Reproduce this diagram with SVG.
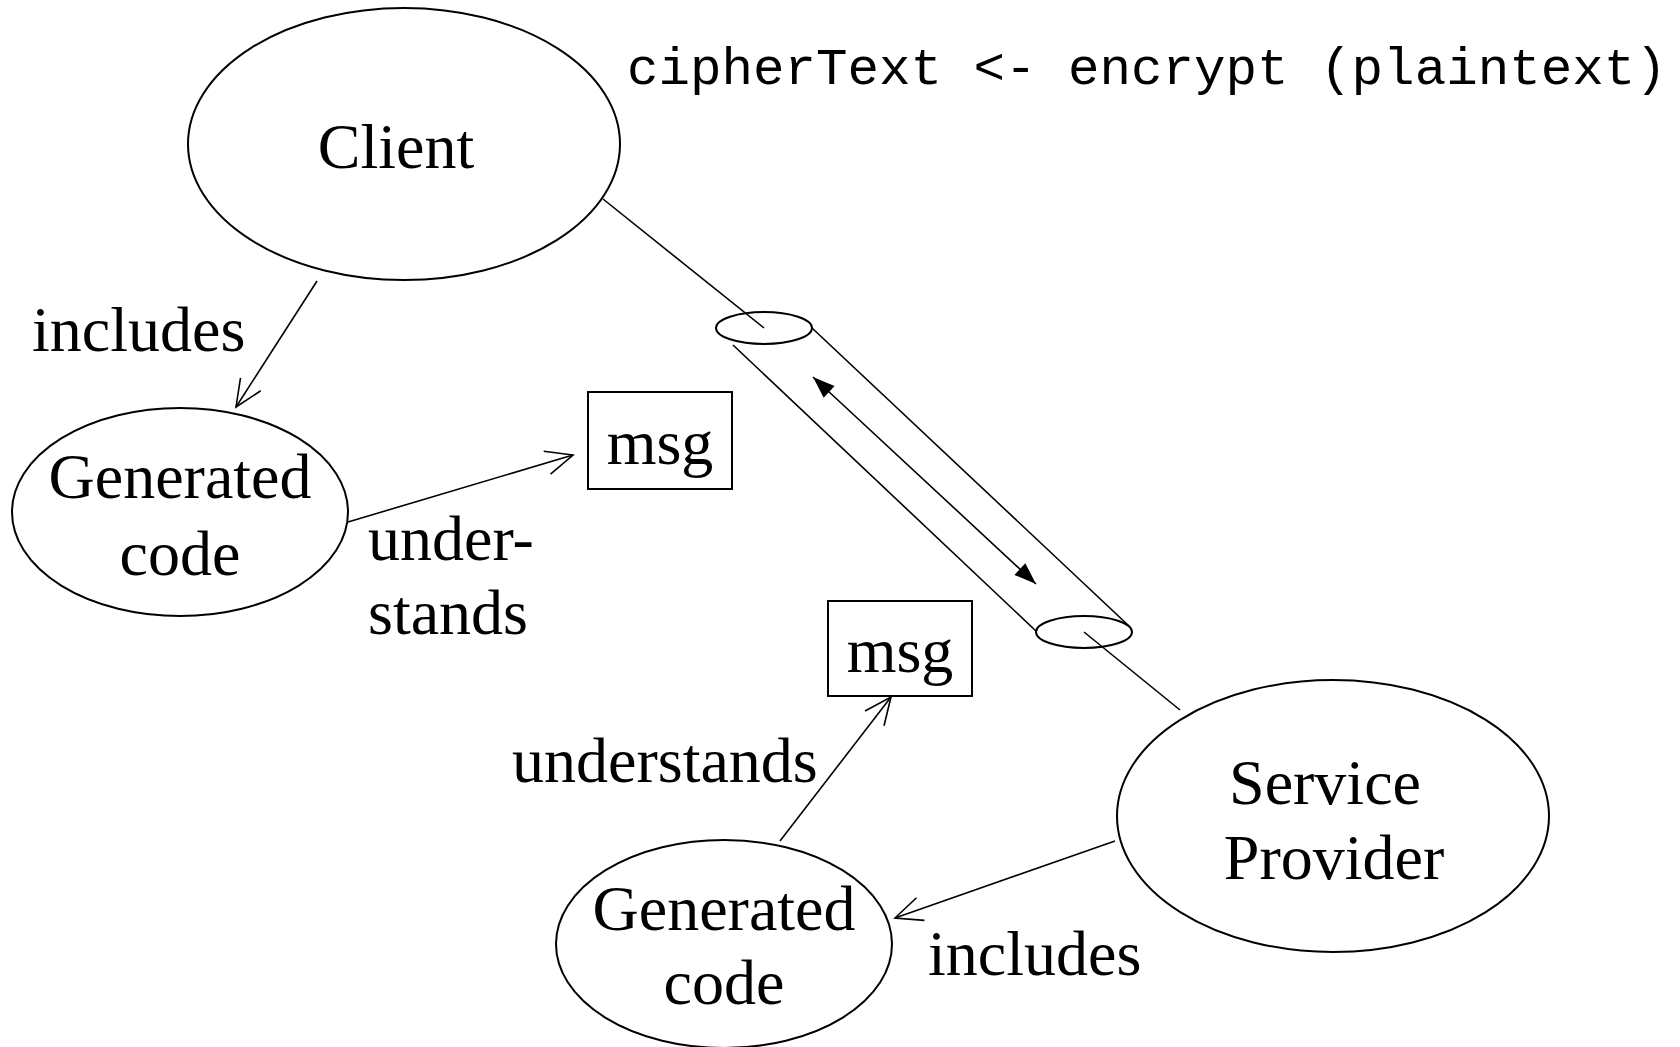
<svg xmlns="http://www.w3.org/2000/svg" width="1680" height="1047" viewBox="0 0 1680 1047">
  <defs>
    <style>
      .node { fill: #fff; stroke: #000; stroke-width: 2; }
      .lbl { font-family: "Liberation Serif", "Times New Roman", serif; font-size: 64px; fill: #000; }
      .mid { text-anchor: middle; }
      .code { font-family: "Liberation Mono", "Courier New", monospace; font-size: 52.5px; fill: #000; }
      .edge { fill: none; stroke: #000; stroke-width: 1.6; }
    </style>
    <marker id="open" markerUnits="userSpaceOnUse" viewBox="-30 -14 32 28" refX="0" refY="0" markerWidth="32" markerHeight="28" orient="auto">
      <path d="M-27,-12 L0,0 L-27,12" fill="none" stroke="#000" stroke-width="1.6"/>
    </marker>
    <marker id="solid" markerUnits="userSpaceOnUse" viewBox="-24 -9 26 18" refX="0" refY="0" markerWidth="26" markerHeight="18" orient="auto-start-reverse">
      <path d="M-22,-8 L0,0 L-22,8 Z" fill="#000"/>
    </marker>
  </defs>

  <rect width="1680" height="1047" fill="#fff"/>

  <!-- caption -->
  <text class="code" x="627" y="84">cipherText &lt;- encrypt (plaintext)</text>

  <!-- connectors -->
  <g id="connectors">
    <!-- channel tube between client and provider -->
    <line class="edge" x1="603" y1="199" x2="764" y2="328"/>
    <line class="edge" x1="812" y1="328" x2="1129" y2="626"/>
    <line class="edge" x1="733" y1="345" x2="1036" y2="631"/>
    <line class="edge" x1="1084" y1="632" x2="1180" y2="710"/>
    <line class="edge" x1="813" y1="377" x2="1036" y2="584" marker-start="url(#solid)" marker-end="url(#solid)"/>
    <!-- client side -->
    <line class="edge" x1="317" y1="281" x2="236" y2="407" marker-end="url(#open)"/>
    <line class="edge" x1="348" y1="522" x2="573" y2="455" marker-end="url(#open)"/>
    <!-- provider side -->
    <line class="edge" x1="780" y1="841" x2="891" y2="697" marker-end="url(#open)"/>
    <line class="edge" x1="1115" y1="841" x2="895" y2="918" marker-end="url(#open)"/>
  </g>

  <!-- tube end caps -->
  <g id="tube-top">
    <ellipse cx="764" cy="328" rx="48" ry="16" fill="none" stroke="#000" stroke-width="2"/>
  </g>
  <g id="tube-bottom">
    <ellipse cx="1084" cy="632" rx="48" ry="16" fill="none" stroke="#000" stroke-width="2"/>
  </g>

  <!-- edge labels -->
  <text class="lbl" x="32" y="351">includes</text>
  <text class="lbl" x="368" y="560">under-</text>
  <text class="lbl" x="368" y="634">stands</text>
  <text class="lbl" x="512" y="782">understands</text>
  <text class="lbl" x="928" y="975">includes</text>

  <g id="client">
    <ellipse class="node" cx="404" cy="144" rx="216" ry="136"/>
    <text class="lbl mid" x="396" y="168">Client</text>
  </g>

  <g id="client-code">
    <ellipse class="node" cx="180" cy="512" rx="168" ry="104"/>
    <text class="lbl mid" x="180" y="498">Generated</text>
    <text class="lbl mid" x="180" y="575">code</text>
  </g>

  <g id="client-msg">
    <rect class="node" x="588" y="392" width="144" height="97" stroke-width="1.6"/>
    <text class="lbl mid" x="660" y="464">msg</text>
  </g>

  <g id="provider">
    <ellipse class="node" cx="1333" cy="816" rx="216" ry="136"/>
    <text class="lbl mid" x="1325" y="804">Service</text>
    <text class="lbl mid" x="1334" y="879">Provider</text>
  </g>

  <g id="provider-code">
    <ellipse class="node" cx="724" cy="944" rx="168" ry="104"/>
    <text class="lbl mid" x="724" y="930">Generated</text>
    <text class="lbl mid" x="724" y="1004">code</text>
  </g>

  <g id="provider-msg">
    <rect class="node" x="828" y="601" width="144" height="95" stroke-width="1.6"/>
    <text class="lbl mid" x="900" y="672">msg</text>
  </g>
</svg>
